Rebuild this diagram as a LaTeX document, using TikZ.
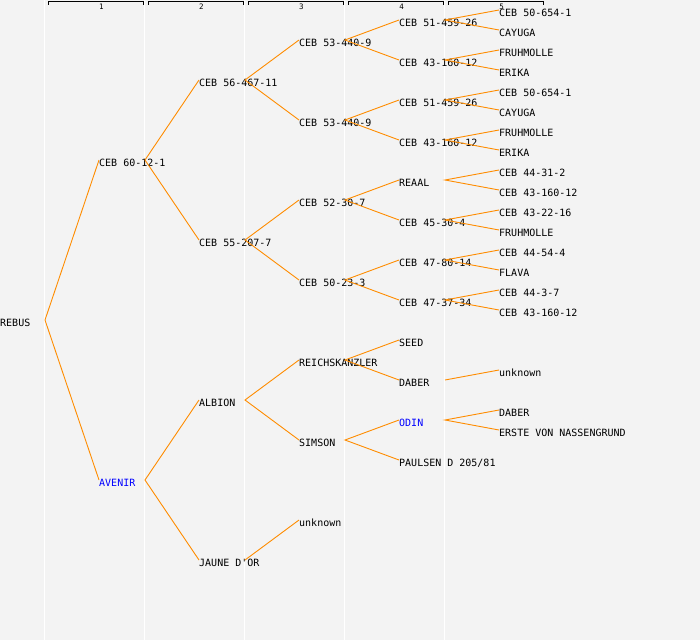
\documentclass[tikz,border=0pt]{standalone}
\usepackage{fontspec}
\setmonofont{DejaVu Sans Mono}
\definecolor{bg}{HTML}{F3F3F3}
\definecolor{edgeorange}{HTML}{FF8C00}
\tikzset{
  lbl/.style={anchor=west, inner sep=0pt, font=\ttfamily\fontsize{10}{10}\selectfont, text height=12pt, text depth=0pt},
  blu/.style={lbl, text=blue},
  link/.style={draw=edgeorange, line width=0.9pt},
  sep/.style={draw=white, line width=1pt},
  bracket/.style={draw=black, line width=1pt},
  colnum/.style={inner sep=0pt, font=\ttfamily\fontsize{7.5}{7.5}\selectfont},
}
\begin{document}
\begin{tikzpicture}[x=1pt,y=-1pt]
\fill[bg] (0,0) rectangle (700,640);
\useasboundingbox (0,0) rectangle (700,640);
% column separators
\foreach \c in {44.5,144.5,244.5,344.5,444.5} \draw[sep] (\c,0) -- (\c,640);
% column headers
\foreach \k in {1,...,5} {
  \coordinate (hL\k) at ({48+100*(\k-1)},4.5);
  \coordinate (hR\k) at ({143+100*(\k-1)},4.5);
  \draw[bracket] (hL\k) -- ++(0,-3) -| (hR\k);
  \node[colnum] (h\k) at ({101.5+100*(\k-1)},6.5) {\k};
}
% ---------- nodes ----------
\node[lbl] (r) at (0,320) {REBUS};
\coordinate (rF) at (45,320);
% gen 1
\node[lbl] (a) at (99,160) {CEB 60-12-1};   \coordinate (aF) at (145,160);
\node[blu] (b) at (99,480) {AVENIR};        \coordinate (bF) at (145,480);
% gen 2
\node[lbl] (aa) at (199,80)  {CEB 56-467-11}; \coordinate (aaF) at (245,80);
\node[lbl] (ab) at (199,240) {CEB 55-207-7};  \coordinate (abF) at (245,240);
\node[lbl] (ba) at (199,400) {ALBION};        \coordinate (baF) at (245,400);
\node[lbl] (bb) at (199,560) {JAUNE D'OR};    \coordinate (bbF) at (245,560);
% gen 3
\node[lbl] (aaa) at (299,40)  {CEB 53-440-9};  \coordinate (aaaF) at (345,40);
\node[lbl] (aab) at (299,120) {CEB 53-440-9};  \coordinate (aabF) at (345,120);
\node[lbl] (aba) at (299,200) {CEB 52-30-7};   \coordinate (abaF) at (345,200);
\node[lbl] (abb) at (299,280) {CEB 50-23-3};   \coordinate (abbF) at (345,280);
\node[lbl] (baa) at (299,360) {REICHSKANZLER}; \coordinate (baaF) at (345,360);
\node[lbl] (bab) at (299,440) {SIMSON};        \coordinate (babF) at (345,440);
\node[lbl] (bba) at (299,520) {unknown};
% gen 4
\node[lbl] (aaaa) at (399,20)  {CEB 51-459-26}; \coordinate (aaaaF) at (445,20);
\node[lbl] (aaab) at (399,60)  {CEB 43-160-12}; \coordinate (aaabF) at (445,60);
\node[lbl] (aaba) at (399,100) {CEB 51-459-26}; \coordinate (aabaF) at (445,100);
\node[lbl] (aabb) at (399,140) {CEB 43-160-12}; \coordinate (aabbF) at (445,140);
\node[lbl] (abaa) at (399,180) {REAAL};         \coordinate (abaaF) at (445,180);
\node[lbl] (abab) at (399,220) {CEB 45-30-4};   \coordinate (ababF) at (445,220);
\node[lbl] (abba) at (399,260) {CEB 47-80-14};  \coordinate (abbaF) at (445,260);
\node[lbl] (abbb) at (399,300) {CEB 47-37-34};  \coordinate (abbbF) at (445,300);
\node[lbl] (baaa) at (399,340) {SEED};
\node[lbl] (baab) at (399,380) {DABER};         \coordinate (baabF) at (445,380);
\node[blu] (baba) at (399,420) {ODIN};          \coordinate (babaF) at (445,420);
\node[lbl] (babb) at (399,460) {PAULSEN D 205/81};
% gen 5
\node[lbl] (c01) at (499,10)  {CEB 50-654-1};
\node[lbl] (c02) at (499,30)  {CAYUGA};
\node[lbl] (c03) at (499,50)  {FRUHMOLLE};
\node[lbl] (c04) at (499,70)  {ERIKA};
\node[lbl] (c05) at (499,90)  {CEB 50-654-1};
\node[lbl] (c06) at (499,110) {CAYUGA};
\node[lbl] (c07) at (499,130) {FRUHMOLLE};
\node[lbl] (c08) at (499,150) {ERIKA};
\node[lbl] (c09) at (499,170) {CEB 44-31-2};
\node[lbl] (c10) at (499,190) {CEB 43-160-12};
\node[lbl] (c11) at (499,210) {CEB 43-22-16};
\node[lbl] (c12) at (499,230) {FRUHMOLLE};
\node[lbl] (c13) at (499,250) {CEB 44-54-4};
\node[lbl] (c14) at (499,270) {FLAVA};
\node[lbl] (c15) at (499,290) {CEB 44-3-7};
\node[lbl] (c16) at (499,310) {CEB 43-160-12};
\node[lbl] (c17) at (499,370) {unknown};
\node[lbl] (c18) at (499,410) {DABER};
\node[lbl] (c19) at (499,430) {ERSTE VON NASSENGRUND};
% ---------- connectors ----------
\draw[link] (a.west) -- (rF) -- (b.west);
\draw[link] (aa.west) -- (aF) -- (ab.west);
\draw[link] (ba.west) -- (bF) -- (bb.west);
\draw[link] (aaa.west) -- (aaF) -- (aab.west);
\draw[link] (aba.west) -- (abF) -- (abb.west);
\draw[link] (baa.west) -- (baF) -- (bab.west);
\draw[link] (bbF) -- (bba.west);
\draw[link] (aaaa.west) -- (aaaF) -- (aaab.west);
\draw[link] (aaba.west) -- (aabF) -- (aabb.west);
\draw[link] (abaa.west) -- (abaF) -- (abab.west);
\draw[link] (abba.west) -- (abbF) -- (abbb.west);
\draw[link] (baaa.west) -- (baaF) -- (baab.west);
\draw[link] (baba.west) -- (babF) -- (babb.west);
\draw[link] (c01.west) -- (aaaaF) -- (c02.west);
\draw[link] (c03.west) -- (aaabF) -- (c04.west);
\draw[link] (c05.west) -- (aabaF) -- (c06.west);
\draw[link] (c07.west) -- (aabbF) -- (c08.west);
\draw[link] (c09.west) -- (abaaF) -- (c10.west);
\draw[link] (c11.west) -- (ababF) -- (c12.west);
\draw[link] (c13.west) -- (abbaF) -- (c14.west);
\draw[link] (c15.west) -- (abbbF) -- (c16.west);
\draw[link] (baabF) -- (c17.west);
\draw[link] (c18.west) -- (babaF) -- (c19.west);
\end{tikzpicture}
\end{document}
